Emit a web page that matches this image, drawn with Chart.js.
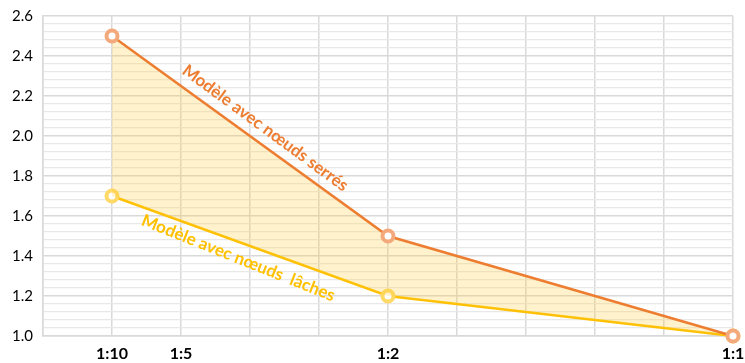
<!DOCTYPE html>
<html>
<head>
<meta charset="utf-8">
<script src="https://cdn.jsdelivr.net/npm/chart.js@4/dist/chart.umd.min.js"></script>
<style>
    html, body { margin: 0; padding: 0; background: #fff; }
    #wrap { position: relative; width: 745px; height: 363px; }
</style>
</head>
<body>
<div id="wrap"><canvas id="chart"></canvas></div>
<script>
// Ratio positions on a 0..10 linear axis (1:10 -> 1, 1:1 -> 10)
const tickValues = [1, 2, 5, 10];
const tickLabels = ['1:10', '1:5', '1:2', '1:1'];

const pointX = [1, 5, 10];
const tightValues = [2.5, 1.5, 1.0];   // Modèle avec nœuds serrés
const looseValues = [1.7, 1.2, 1.0];   // Modèle avec nœuds lâches

const tightLabel = 'Modèle avec nœuds serrés';
const looseLabel = 'Modèle avec nœuds  lâches';

const toPoints = (xs, ys) => xs.map((x, i) => ({ x, y: ys[i] }));

// Rotated text labels laid along each line
const lineLabels = {
    id: 'lineLabels',
    afterDatasetsDraw(chart) {
        const { ctx, scales: { x, y } } = chart;
        const items = [
            { text: tightLabel, color: '#ed7d31', at: [3.22, 2.04], angle: 36.3 },
            { text: looseLabel, color: '#ffc000', at: [2.83, 1.39], angle: 21.8 }
        ];
        ctx.save();
        items.forEach(it => {
            ctx.save();
            ctx.translate(x.getPixelForValue(it.at[0]), y.getPixelForValue(it.at[1]));
            ctx.rotate(it.angle * Math.PI / 180);
            ctx.font = 'bold 17px Lato';
            ctx.fillStyle = it.color;
            ctx.textAlign = 'center';
            ctx.textBaseline = 'middle';
            ctx.fillText(it.text, 0, 0);
            ctx.restore();
        });
        ctx.restore();
    }
};

const isMajor = v => Math.abs(Math.round(v * 5) - v * 5) < 1e-6;

new Chart(document.getElementById('chart').getContext('2d'), {
    type: 'scatter',
    data: {
        datasets: [
            {
                label: tightLabel,
                data: toPoints(pointX, tightValues),
                showLine: true,
                borderColor: '#ed7d31',
                borderWidth: 2.5,
                backgroundColor: 'rgba(255, 204, 51, 0.25)',
                fill: '+1',
                pointRadius: 5.5,
                pointBorderWidth: 4,
                pointBackgroundColor: '#ffffff',
                pointBorderColor: '#f4a97c',
                clip: false
            },
            {
                label: looseLabel,
                data: toPoints(pointX, looseValues),
                showLine: true,
                borderColor: '#ffc000',
                borderWidth: 2.5,
                fill: false,
                pointRadius: 5.5,
                pointBorderWidth: 4,
                pointBackgroundColor: '#ffffff',
                pointBorderColor: '#ffd966',
                clip: false
            }
        ]
    },
    options: {
        responsive: true,
        maintainAspectRatio: false,
        animation: false,
        layout: { padding: { top: 16, right: 12, left: 0, bottom: 0 } },
        plugins: {
            legend: { display: false },
            tooltip: { enabled: false }
        },
        scales: {
            x: {
                type: 'linear',
                min: 0,
                max: 10,
                afterBuildTicks: scale => {
                    scale.ticks = Array.from({ length: 11 }, (_, i) => ({ value: i }));
                },
                afterFit: scale => {
                    scale.height = 27;
                    scale.paddingLeft = 0;
                    scale.paddingRight = 0;
                },
                ticks: {
                    autoSkip: false,
                    maxRotation: 0,
                    padding: 8,
                    color: '#000',
                    font: { family: 'Lato', size: 16, weight: 'bold' },
                    callback: v => {
                        const i = tickValues.indexOf(v);
                        return i >= 0 ? tickLabels[i] : '';
                    }
                },
                grid: { color: '#d9d9d9', lineWidth: 1.5, drawTicks: false },
                border: { color: '#d9d9d9', width: 1.5 }
            },
            y: {
                min: 1.0,
                max: 2.6,
                afterBuildTicks: scale => {
                    const t = [];
                    for (let i = 0; i <= 40; i++) t.push({ value: +(1 + i * 0.04).toFixed(2) });
                    scale.ticks = t;
                },
                afterFit: scale => {
                    scale.width = 43;
                    scale.paddingTop = 0;
                    scale.paddingBottom = 0;
                },
                ticks: {
                    autoSkip: false,
                    padding: 10,
                    color: '#000',
                    font: { family: 'Lato', size: 15 },
                    callback: v => isMajor(v) ? v.toFixed(1) : ''
                },
                grid: {
                    drawTicks: false,
                    color: ctx => isMajor(ctx.tick.value) ? '#d9d9d9' : '#e8e8e8',
                    lineWidth: ctx => isMajor(ctx.tick.value) ? 1.5 : 1.2
                },
                border: { color: '#d9d9d9', width: 1.5 }
            }
        }
    },
    plugins: [lineLabels]
});
</script>
</body>
</html>
